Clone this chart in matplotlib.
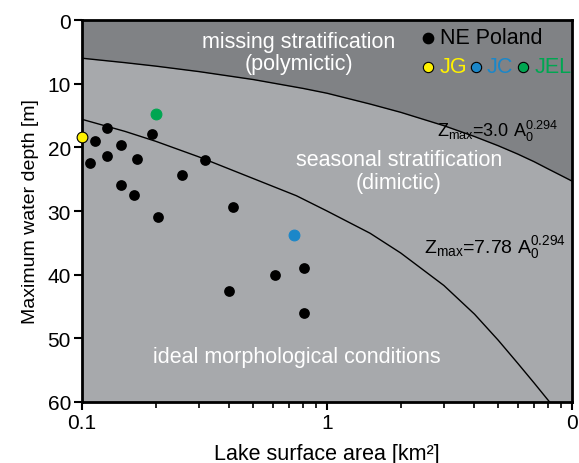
import matplotlib
matplotlib.use("Agg")
import matplotlib.pyplot as plt

plt.rcParams["font.family"] = ["Liberation Sans", "DejaVu Sans"]
plt.rcParams["mathtext.fontset"] = "custom"
plt.rcParams["mathtext.rm"] = "Liberation Sans"
plt.rcParams["mathtext.default"] = "regular"

# lakes in NE Poland: area [km2], max depth [m]
ne_area = [0.113, 0.127, 0.108, 0.126, 0.144, 0.167, 0.194, 0.317, 0.255,
           0.144, 0.163, 0.205, 0.412, 0.400, 0.613, 0.807, 0.807]
ne_depth = [19.0, 17.0, 22.4, 21.4, 19.7, 21.9, 17.9, 22.0, 24.4,
            25.9, 27.5, 30.9, 29.4, 42.5, 40.1, 38.9, 46.1]

# the three named lakes
lake_names = ["JG", "JC", "JEL"]
lake_area = [0.1, 0.732, 0.2]
lake_depth = [18.3, 33.8, 14.8]
lake_colors = ["#fff200", "#1b87c9", "#00a651"]

# boundary curves
upper_area = [0.1, 0.15, 0.2, 0.3, 0.5, 0.8, 1, 1.5, 2, 3, 4, 5, 6, 7, 8, 9, 10]
upper_depth = [6.0, 6.7, 7.24, 8.1, 9.35, 10.75, 11.5, 13.2, 14.5, 16.6, 18.3,
               19.75, 21.05, 22.25, 23.4, 24.4, 25.3]
lower_area = [0.1, 0.15, 0.2, 0.3, 0.5, 0.75, 1, 1.5, 2, 3, 4, 5, 6, 7, 8.1]
lower_depth = [15.6, 17.5, 19.05, 21.5, 24.9, 27.6, 30.0, 33.5, 36.6, 41.7,
               46.2, 50.3, 53.9, 57.0, 60.0]

dark = "#808285"
light = "#a7a9ac"

fig = plt.figure(figsize=(5.79, 4.64), dpi=100)
ax = fig.add_axes([0.1416, 0.1315, 0.8463, 0.8232])

ax.set_xscale("log")
ax.set_xlim(0.1, 10)
ax.set_ylim(60, 0)
ax.set_facecolor(light)

ax.fill_between(upper_area, 0, upper_depth, color=dark, lw=0, zorder=1)
ax.plot(upper_area, upper_depth, color="black", lw=1, zorder=2)
ax.plot(lower_area, lower_depth, color="black", lw=1, zorder=2)

ax.scatter(ne_area, ne_depth, s=60, color="black", lw=0, zorder=3)
for a, d, c in zip(lake_area, lake_depth, lake_colors):
    ec = "black" if c == "#fff200" else c
    ax.scatter(a, d, s=60, color=c, edgecolors=ec, lw=0.8, zorder=4, clip_on=False)

# region labels
ax.text(0.442, 0.916, "missing stratification\n(polymictic)", transform=ax.transAxes,
        ha="center", va="center", color="white", fontsize=15.5, linespacing=1.05)
ax.text(0.647, 0.605, "seasonal stratification\n(dimictic)", transform=ax.transAxes,
        ha="center", va="center", color="white", fontsize=15.5, linespacing=1.1)
ax.text(0.439, 0.12, "ideal morphological conditions", transform=ax.transAxes,
        ha="center", va="center", color="white", fontsize=15.5)

ax.text(0.7245, 0.712, r"Z$_{max}$=3.0 A$_0^{0.294}$", transform=ax.transAxes,
        ha="left", va="center", fontsize=13)
ax.text(0.698, 0.406, r"Z$_{max}$=7.78 A$_0^{0.294}$", transform=ax.transAxes,
        ha="left", va="center", fontsize=14)

# legend
ax.scatter([0.7055], [0.953], s=55, color="black", transform=ax.transAxes, zorder=5)
ax.text(0.7306, 0.953, "NE Poland", transform=ax.transAxes, ha="left", va="center",
        fontsize=15.5)
dot_x = [0.7055, 0.8035, 0.8994]
text_x = [0.7306, 0.8265, 0.9245]
for x0, t0, name, c in zip(dot_x, text_x, lake_names, lake_colors):
    ax.scatter([x0], [0.878], s=55, color=c, edgecolors="black", lw=0.8,
               transform=ax.transAxes, zorder=5)
    ax.text(t0, 0.878, name, transform=ax.transAxes, ha="left", va="center",
            fontsize=15.5, color=c, clip_on=True)

ax.set_yticks([0, 10, 20, 30, 40, 50, 60])
ax.set_xticks([0.1, 1, 10])
ax.set_xticklabels(["0.1", "1", "0"])
ax.tick_params(axis="both", which="major", labelsize=15, width=1.5, length=6,
               direction="out", pad=2)
ax.tick_params(axis="x", which="minor", width=1.2, length=4.5, direction="out")
for s in ax.spines.values():
    s.set_linewidth(2)

ax.set_xlabel("Lake surface area [km²]", fontsize=15.5, labelpad=8)
ax.set_ylabel("Maximum water depth [m]", fontsize=14, labelpad=6)

fig.savefig("out.png", dpi=100)
